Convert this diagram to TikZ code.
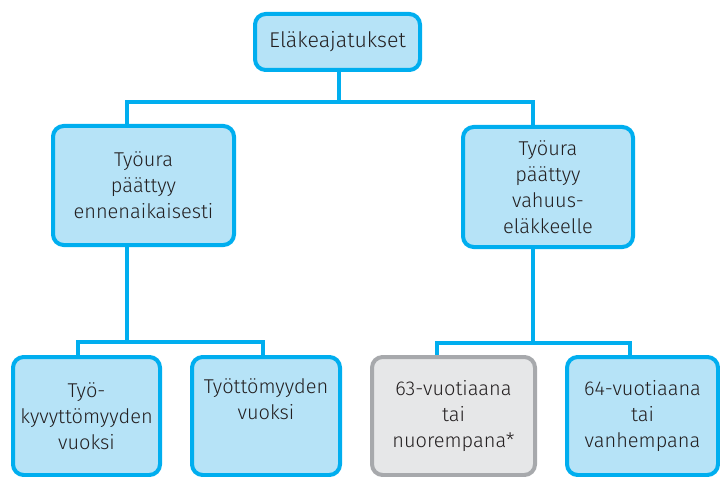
\documentclass[tikz,border=0pt]{standalone}
\usepackage{fontspec}
\setmainfont{Fira Sans}[UprightFont=* Light]
\usetikzlibrary{positioning,backgrounds}
\definecolor{boxfill}{HTML}{B6E3F7}
\definecolor{boxline}{HTML}{00AEEF}
\definecolor{greyfill}{HTML}{E6E7E8}
\definecolor{greyline}{HTML}{A7A9AC}
\definecolor{txt}{HTML}{231F20}

\begin{document}
\begin{tikzpicture}[x=0.75pt,y=-0.75pt]
            \tikzstyle{box} = [draw=boxline, fill=boxfill, line width=3pt, rounded corners=8pt, align=center, text=txt, inner sep=0pt, font=\fontsize{15}{19.5}\selectfont]
            \tikzstyle{greybox} = [box, draw=greyline, fill=greyfill]
            \tikzstyle{link} = [draw=boxline, line width=3pt]
            \useasboundingbox (0,0) rectangle (720,477);

            \node[box, minimum width=123.75pt, minimum height=42pt, font=\fontsize{16}{19.5}\selectfont] (top) at (337.5,42) {Eläkeajatukset};
            \node[box, minimum width=135.75pt, minimum height=89.25pt] (early) at (143.5,185.5) {Työura\\päättyy\\ennenaikaisesti};
            \node[box, minimum width=127.5pt, minimum height=90pt] (late) at (548,187) {Työura\\päättyy\\vahuus-\\eläkkeelle};
            \node[box, minimum width=110.25pt, minimum height=88.5pt] (disab) at (86.5,416) {Työ-\\kyvyttömyyden\\vuoksi};
            \node[box, minimum width=111pt, minimum height=88.5pt] (unemp) at (266,416) {Työttömyyden\\vuoksi\\\strut};
            \node[greybox, minimum width=122.25pt, minimum height=88.5pt] (young) at (453.5,416) {63-vuotiaana\\tai\\nuorempana*};
            \node[box, minimum width=113.25pt, minimum height=88.5pt] (old) at (642.5,416) {64-vuotiaana\\tai\\vanhempana};

            % branch points
            \coordinate (tb) at (339,102);
            \coordinate (lb) at (127,102);
            \coordinate (rb) at (533,102);
            \coordinate (ll) at (78,342);
            \coordinate (lm) at (127,342);
            \coordinate (lr) at (263,342);
            \coordinate (rl) at (437,343);
            \coordinate (rm) at (533,343);
            \coordinate (rr) at (630,343);

            \begin{pgfonlayer}{background}
            \path[link] (top.south -| tb) -- (tb);
            \path[link] (early.north -| lb) -- (lb) -- (rb) -- (late.north -| rb);
            \path[link] (early.south -| lm) -- (lm);
            \path[link] (disab.north -| ll) -- (ll) -- (lr) -- (unemp.north -| lr);
            \path[link] (late.south -| rm) -- (rm);
            \path[link] (young.north -| rl) -- (rl) -- (rr) -- (old.north -| rr);
            \end{pgfonlayer}
      \end{tikzpicture}
\end{document}
